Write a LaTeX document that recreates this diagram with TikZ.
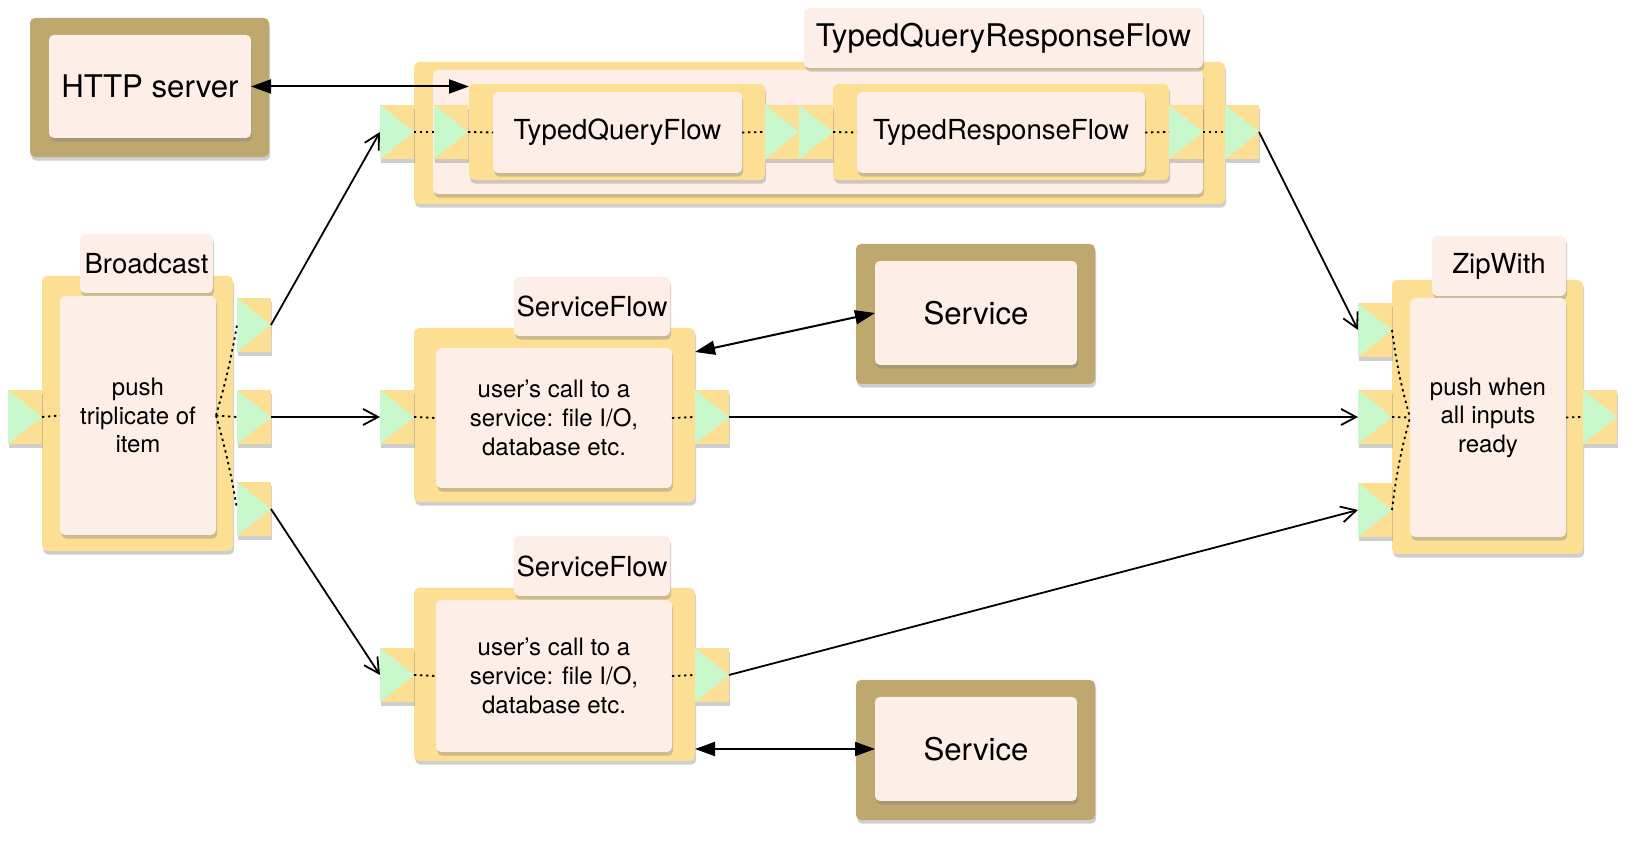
\documentclass[tikz,border=0pt]{standalone}
\usepackage{fontspec}
\setmainfont{TeX Gyre Heros}
\usetikzlibrary{arrows.meta,shadows}
\definecolor{yel}{RGB}{253,223,148}
\definecolor{pnk}{RGB}{254,238,232}
\definecolor{brn}{RGB}{191,168,110}
\definecolor{grn}{RGB}{200,248,204}
\newcommand\fbig{\fontsize{15.6}{18}\selectfont}
\newcommand\fmid{\fontsize{13.8}{16}\selectfont}
\newcommand\fbody{\fontsize{12}{14.3}\selectfont}
% #1 style, #2 name, #3 x1, #4 y1, #5 x2, #6 y2, #7 text
\newcommand\bx[7]{%
  \pgfmathsetmacro\bxw{((#5)-(#3))*0.5}%
  \pgfmathsetmacro\bxh{((#6)-(#4))*0.5}%
  \node[#1, minimum width=\bxw pt, minimum height=\bxh pt] (#2) at ({((#3)+(#5))/2},{((#4)+(#6))/2}) {#7};}
\newcommand\portnode[3]{\bx{port}{#1}{#2}{#3}{#2+34}{#3+54}{}}
\begin{document}
\begin{tikzpicture}[x=0.5pt,y=-0.5pt,
  shad/.style={drop shadow={opacity=0.38,shadow xshift=0.6pt,shadow yshift=-1.8pt}},
  base/.style={inner sep=0pt,outer sep=0pt,shad},
  ybox/.style={base,fill=yel,rounded corners=2.5pt},
  pbox/.style={base,fill=pnk,rounded corners=2.5pt,align=center},
  bbox/.style={base,fill=brn,rounded corners=2.5pt},
  port/.style={base,fill=yel,path picture={\fill[grn] (path picture bounding box.north west) -- (path picture bounding box.east) -- (path picture bounding box.south west) -- cycle;}},
  flow/.style={line width=0.9pt,-{Straight Barb[length=7.5pt,width=8pt]}},
  call/.style={line width=1pt,{Triangle[length=10pt,width=7pt]}-{Triangle[length=10pt,width=7pt]}},
  inner/.style={line width=0.9pt,dash pattern=on 1.2pt off 1.8pt}]
\useasboundingbox (0,0) rectangle (1640,860);
\fill[white] (0,0) rectangle (1640,860);

% HTTP server
\bx{bbox}{http}{30}{18}{269}{157}{}
\bx{pbox,font=\fbig}{httpin}{49}{35}{251}{138}{HTTP server}

% TypedQueryResponseFlow
\bx{ybox}{tqr}{414}{62}{1225}{204}{}
\bx{pbox}{tqrin}{433}{70}{1203}{194}{}
\bx{pbox,font=\fbig}{tqrlab}{804}{8}{1203}{68}{TypedQueryResponseFlow}
\bx{ybox}{tqf}{469}{84}{765}{180}{}
\bx{pbox,font=\fmid}{tqfin}{493}{92}{742}{173}{TypedQueryFlow}
\bx{ybox}{trf}{833}{84}{1169}{180}{}
\bx{pbox,font=\fmid}{trfin}{857}{92}{1145}{173}{TypedResponseFlow}
\portnode{qin}{380}{105}
\portnode{qin2}{434}{105}
\portnode{qfo}{765}{105}
\portnode{rin}{799}{105}
\portnode{rout}{1169}{105}
\portnode{qout}{1225}{105}

% Broadcast
\bx{ybox}{bc}{42}{276}{233}{551}{}
\bx{pbox,font=\fmid}{bclab}{80}{234}{213}{293}{Broadcast}
\bx{pbox,font=\fbody}{bcin}{60}{296}{216}{535}{push\\triplicate of\\item}
\portnode{bin}{8}{390}
\portnode{bo1}{237}{298}
\portnode{bo2}{237}{390}
\portnode{bo3}{237}{482}

% ServiceFlow 1
\bx{ybox}{sf1}{414}{328}{695}{502}{}
\bx{pbox,font=\fmid}{sf1lab}{514}{277}{670}{336}{ServiceFlow}
\bx{pbox,font=\fbody}{sf1in}{436}{348}{672}{488}{user’s call to a\\service: file I/O,\\database etc.}
\portnode{s1in}{380}{390}
\portnode{s1out}{695}{390}

% Service 1
\bx{bbox}{svc1}{856}{244}{1095}{384}{}
\bx{pbox,font=\fbig}{svc1in}{875}{261}{1077}{365}{Service}

% ServiceFlow 2
\bx{ybox}{sf2}{414}{588}{695}{761}{}
\bx{pbox,font=\fmid}{sf2lab}{514}{536}{670}{596}{ServiceFlow}
\bx{pbox,font=\fbody}{sf2in}{436}{600}{672}{752}{user’s call to a\\service: file I/O,\\database etc.}
\portnode{s2in}{380}{648}
\portnode{s2out}{695}{648}

% Service 2
\bx{bbox}{svc2}{856}{680}{1095}{820}{}
\bx{pbox,font=\fbig}{svc2in}{875}{697}{1077}{801}{Service}

% ZipWith
\bx{ybox}{zw}{1392}{280}{1583}{554}{}
\bx{pbox,font=\fmid}{zwlab}{1432}{236}{1566}{296}{ZipWith}
\bx{pbox,font=\fbody}{zwin}{1410}{298}{1566}{537}{push when\\all inputs\\ready}
\portnode{z1}{1358}{303}
\portnode{z2}{1358}{390}
\portnode{z3}{1358}{483}
\portnode{zo}{1583}{390}

% internal dotted connections
\draw[inner] (qin.east) -- (qin2.west);
\draw[inner] (qin2.east) -- (tqfin.west);
\draw[inner] (tqfin.east) -- (qfo.west);
\draw[inner] (rin.east) -- (trfin.west);
\draw[inner] (trfin.east) -- (rout.west);
\draw[inner] (rout.east) -- (qout.west);
\draw[inner] (bin.east) -- (bcin.west);
\draw[inner] (bcin.east) to[bend right=3] (bo1.west);
\draw[inner] (bcin.east) -- (bo2.west);
\draw[inner] (bcin.east) to[bend left=3] (bo3.west);
\draw[inner] (s1in.east) -- (sf1in.west);
\draw[inner] (sf1in.east) -- (s1out.west);
\draw[inner] (s2in.east) -- (sf2in.west);
\draw[inner] (sf2in.east) -- (s2out.west);
\draw[inner] (z1.east) to[bend right=4] (zwin.west);
\draw[inner] (z2.east) -- (zwin.west);
\draw[inner] (z3.east) to[bend left=4] (zwin.west);
\draw[inner] (zwin.east) -- (zo.west);

% flows
\draw[flow] (bo1.east) -- (qin.west);
\draw[flow] (bo2.east) -- (s1in.west);
\draw[flow] (bo3.east) -- (s2in.west);
\draw[flow] (qout.east) -- (z1.west);
\draw[flow] (s1out.east) -- (z2.west);
\draw[flow] (s2out.east) -- (z3.west);

% calls
\coordinate (tqfcorner) at (469,86);
\draw[call] (httpin.east) -- (httpin.east -| tqfcorner);
\coordinate (sf1corner) at (695,352);
\draw[call] (sf1corner) -- (svc1in.west);
\draw[call] (svc2in.west -| sf2.east) -- (svc2in.west);
\end{tikzpicture}
\end{document}
